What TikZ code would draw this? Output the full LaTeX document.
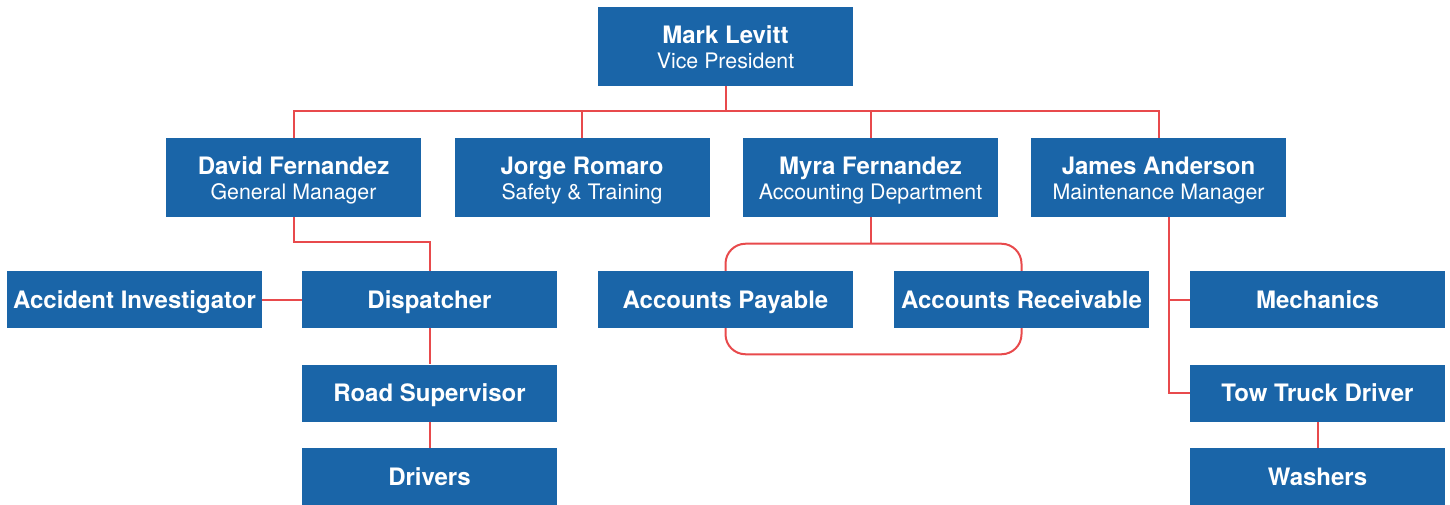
\documentclass[tikz,border=0pt]{standalone}
\usepackage{fontspec}
\setmainfont{TeX Gyre Heros}
\usetikzlibrary{positioning,backgrounds}
\definecolor{orgblue}{HTML}{1A65A8}
\definecolor{orgred}{HTML}{E84A4C}
\newcommand{\who}[2]{\rule{0pt}{17.8pt}\textbf{#1}\\{\fontsize{16}{18.75}\selectfont #2\rule[-3.5pt]{0pt}{3.5pt}}}

\begin{document}
\begin{tikzpicture}[
  x=0.75pt, y=-0.75pt,
  box/.style={fill=orgblue, text=white, inner sep=0pt, minimum width=191.25pt},
  head/.style={box, align=center, minimum height=59.25pt, font=\fontsize{18}{18.75}\selectfont},
  unit/.style={box, minimum height=42.75pt, font=\fontsize{18}{18.75}\selectfont\bfseries, text height=12.9pt, text depth=0pt},
  link/.style={draw=orgred, line width=1.5pt}
]
\useasboundingbox (0,0) rectangle (1450,504);

% top and second row
\node[head] (vp) at (725.5,46.5) {\who{Mark Levitt}{Vice President}};
\node[head] (gm) at (293.5,177.5) {\who{David Fernandez}{General Manager}};
\node[head, right=24.75pt of gm] (safety) {\who{Jorge Romaro}{Safety \& Training}};
\node[head, right=24.75pt of safety] (acct) {\who{Myra Fernandez}{Accounting Department}};
\node[head] (maint) at (1158.5,177.5) {\who{James Anderson}{Maintenance Manager}};

% third row
\node[unit] (acc) at (134.5,299.5) {Accident Investigator};
\node[unit] (disp) at (429.5,299.5) {Dispatcher};
\node[unit] (pay) at (725.5,299.5) {Accounts Payable};
\node[unit] (recv) at (1021.5,299.5) {Accounts Receivable};
\node[unit] (mech) at (1317.5,299.5) {Mechanics};

% lower chains
\node[unit, below=27pt of disp] (road) {Road Supervisor};
\node[unit, below=19.5pt of road] (drivers) {Drivers};
\node[unit, below=27pt of mech] (tow) {Tow Truck Driver};
\node[unit, below=19.5pt of tow] (wash) {Washers};

\coordinate (bus) at (0,111);
\coordinate (acctop) at ([yshift=20.25pt]pay.north);
\coordinate (accbot) at ([yshift=-19.5pt]recv.south);
\coordinate (mtap) at ([xshift=7.5pt]maint.south);

\begin{scope}[on background layer]
\draw[link] (vp.south) -- (vp.south |- bus);
\draw[link] (gm.north) -- (gm.north |- bus) -| (maint.north);
\draw[link] (safety.north) -- (safety.north |- bus);
\draw[link] (acct.north) -- (acct.north |- bus);
\draw[link] (gm.south) -- ++(0,25) -| (disp.north);
\draw[link] (acc) -- (disp);
\draw[link] (disp) -- (road);
\draw[link] (road) -- (drivers);
\draw[link] (acct.south) -- (acct.south |- acctop);
\draw[link, rounded corners=15pt] (acctop) rectangle (accbot);
\draw[link] (mtap) |- (tow.west);
\draw[link] (mech.west) -- (mech.west -| mtap);
\draw[link] (tow) -- (wash);
\end{scope}
\end{tikzpicture}
\end{document}
